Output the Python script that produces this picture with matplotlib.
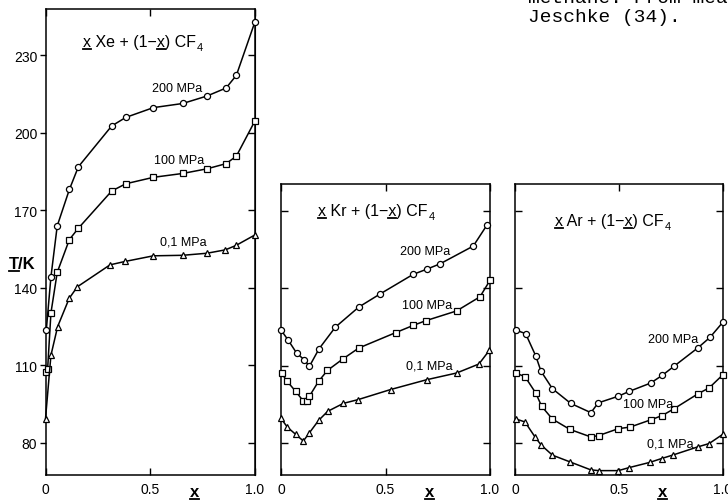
"""Melting curves of xXe/xKr/xAr + (1-x)CF4 at three pressures."""

import matplotlib.pyplot as plt
from matplotlib.font_manager import FontProperties
from matplotlib.lines import Line2D

plt.rcParams['font.family'] = ['Liberation Sans', 'DejaVu Sans']

# --- data: x (mole fraction) and T/K for each system and pressure ---
xe_200_x = [0.004, 0.026, 0.056, 0.114, 0.157, 0.316, 0.383, 0.515, 0.655, 0.771, 0.862, 0.911, 1.0]
xe_200_t = [123.8, 144.3, 164.0, 178.1, 186.9, 202.7, 206.0, 209.8, 211.4, 214.3, 217.4, 222.3, 243.1]
xe_100_x = [0.0, 0.01, 0.026, 0.056, 0.114, 0.157, 0.316, 0.383, 0.515, 0.655, 0.771, 0.862, 0.911, 1.0]
xe_100_t = [107.4, 108.4, 130.3, 146.0, 158.7, 163.1, 177.5, 180.3, 182.8, 184.3, 186.1, 188.1, 191.0, 204.7]
xe_01_x = [0.0, 0.026, 0.058, 0.113, 0.152, 0.308, 0.379, 0.515, 0.655, 0.771, 0.858, 0.909, 1.0]
xe_01_t = [89.3, 113.9, 125.0, 135.9, 140.4, 148.9, 150.2, 152.4, 152.6, 153.4, 154.7, 156.4, 160.5]

kr_200_x = [0.0, 0.035, 0.075, 0.112, 0.136, 0.182, 0.26, 0.372, 0.472, 0.632, 0.697, 0.761, 0.92, 0.985]
kr_200_t = [123.8, 119.8, 114.8, 112.2, 109.7, 116.5, 124.9, 132.7, 137.7, 145.4, 147.4, 149.5, 156.4, 164.5]
kr_100_x = [0.003, 0.027, 0.07, 0.107, 0.123, 0.136, 0.18, 0.222, 0.295, 0.372, 0.549, 0.633, 0.692, 0.84, 0.952, 1.0]
kr_100_t = [107.1, 104.1, 100.0, 96.2, 96.2, 98.1, 103.9, 108.1, 112.5, 116.8, 122.8, 125.6, 127.4, 131.2, 136.7, 143.1]
kr_01_x = [0.0, 0.03, 0.07, 0.107, 0.136, 0.18, 0.223, 0.298, 0.37, 0.525, 0.697, 0.84, 0.947, 0.997]
kr_01_t = [89.5, 86.1, 83.3, 80.7, 83.9, 88.7, 92.2, 95.3, 96.8, 100.7, 104.5, 107.1, 110.6, 115.9]

ar_200_x = [0.003, 0.051, 0.1, 0.125, 0.18, 0.268, 0.365, 0.4, 0.497, 0.55, 0.652, 0.708, 0.764, 0.878, 0.937, 0.999]
ar_200_t = [123.8, 122.4, 113.7, 107.8, 101.0, 95.3, 91.7, 95.5, 98.1, 100.0, 103.2, 106.2, 109.7, 116.8, 120.9, 126.8]
ar_100_x = [0.003, 0.048, 0.1, 0.128, 0.18, 0.264, 0.364, 0.402, 0.497, 0.553, 0.652, 0.708, 0.764, 0.881, 0.933, 0.999]
ar_100_t = [107.1, 105.7, 99.3, 94.2, 89.2, 85.2, 82.3, 82.8, 85.5, 86.1, 88.9, 90.6, 93.2, 99.1, 101.3, 106.4]
ar_01_x = [0.003, 0.048, 0.096, 0.125, 0.18, 0.264, 0.364, 0.402, 0.497, 0.55, 0.648, 0.705, 0.761, 0.878, 0.933, 0.999]
ar_01_t = [89.3, 88.1, 82.3, 79.2, 75.2, 72.6, 69.5, 69.2, 69.2, 70.4, 72.4, 73.9, 75.3, 78.4, 79.7, 83.3]

yticks = [80, 110, 140, 170, 200, 230]
xticks = [0, 0.5, 1.0]
xticklabels = ['0', '0.5', '1.0']

W, H = 728, 502
fig = plt.figure(figsize=(W / 100, H / 100), dpi=100)
renderer = fig.canvas.get_renderer()
to_fig = fig.transFigure.inverted()


def px_axes(left, top, right, bottom):
    return fig.add_axes([left / W, 1 - bottom / H, (right - left) / W, (bottom - top) / H])


def text_w(s, size, weight='normal'):
    prop = FontProperties(family=plt.rcParams['font.family'], size=size, weight=weight)
    w, h, d = renderer.get_text_width_height_descent(s, prop, ismath=False)
    return w


def rich(x0, y0, pieces, size, weight='normal', ha='left', sub=None):
    """Draw text at display point (x0, y0); pieces = [(str, underlined)]."""
    full = ''.join(p for p, _ in pieces)
    total = text_w(full, size, weight)
    if sub:
        total += text_w(sub, size * 0.7, weight) + 1
    if ha == 'center':
        x0 -= total / 2
    fx, fy = to_fig.transform((x0, y0))
    fig.text(fx, fy, full, ha='left', va='center', fontsize=size, fontweight=weight)
    prefix = ''
    for s, ul in pieces:
        start = text_w(prefix, size, weight) if prefix.strip() else 0.0
        if prefix and prefix[-1] == ' ':
            start += size * 0.28
        if ul:
            wid = text_w(s, size, weight)
            ly = y0 - size * 0.62
            a = to_fig.transform((x0 + start, ly))
            b = to_fig.transform((x0 + start + wid, ly))
            fig.add_artist(Line2D([a[0], b[0]], [a[1], b[1]], color='black',
                                  lw=1.3, transform=fig.transFigure))
        prefix += s
    if sub:
        sx = x0 + text_w(full, size, weight) + 1
        a = to_fig.transform((sx, y0 - size * 0.45))
        fig.text(a[0], a[1], sub, ha='left', va='center', fontsize=size * 0.7,
                 fontweight=weight)


def style(ax, ylim):
    ax.set_xticks(xticks, xticklabels)
    ax.set_yticks(yticks)
    ax.set_xlim(0, 1.0)
    ax.set_ylim(*ylim)
    ax.tick_params(axis='x', direction='in', top=True, length=5, width=1.0,
                   pad=5, labelsize=10)
    for s in ax.spines.values():
        s.set_linewidth(1.1)


def series(ax, x, t, marker):
    ax.plot(x, t, color='black', lw=1.1, marker=marker, ms=4.4, mfc='white',
            mec='black', mew=0.9, clip_on=False, zorder=3)


ax1 = px_axes(45.5, 10, 255, 476)
ax2 = px_axes(281, 185, 490, 476)
ax3 = px_axes(515, 185, 723, 476)

style(ax1, (67.5, 248))
ax1.tick_params(axis='y', direction='out', left=True, right=False, length=4,
                width=1.0, pad=2, labelsize=10)
sec = ax1.secondary_yaxis('right')
sec.set_yticks(yticks)
sec.tick_params(direction='in', length=5, width=1.0, labelright=False)

for ax in (ax2, ax3):
    style(ax, (67.5, 180.5))
    ax.tick_params(axis='y', direction='in', left=True, right=True, length=5,
                   width=1.0, labelleft=False)

series(ax1, xe_200_x, xe_200_t, 'o')
series(ax1, xe_100_x, xe_100_t, 's')
series(ax1, xe_01_x, xe_01_t, '^')
series(ax2, kr_200_x, kr_200_t, 'o')
series(ax2, kr_100_x, kr_100_t, 's')
series(ax2, kr_01_x, kr_01_t, '^')
series(ax3, ar_200_x, ar_200_t, 'o')
series(ax3, ar_100_x, ar_100_t, 's')
series(ax3, ar_01_x, ar_01_t, '^')

lab = dict(ha='center', va='center', fontsize=9)
ax1.text(0.63, 217.5, '200 MPa', **lab)
ax1.text(0.64, 189.5, '100 MPa', **lab)
ax1.text(0.66, 158.0, '0,1 MPa', **lab)
ax2.text(0.69, 154.3, '200 MPa', **lab)
ax2.text(0.70, 133.5, '100 MPa', **lab)
ax2.text(0.71, 110.0, '0,1 MPa', **lab)
ax3.text(0.76, 120.2, '200 MPa', **lab)
ax3.text(0.64, 95.0, '100 MPa', **lab)
ax3.text(0.745, 79.7, '0,1 MPa', **lab)

# titles with underlined x and subscript 4
for ax, el, pos in ((ax1, 'Xe', (0.18, 235.3)), (ax2, 'Kr', (0.177, 170.2)),
                    (ax3, 'Ar', (0.192, 166.3))):
    px, py = ax.transData.transform(pos)
    rich(px, py, [('x', True), (' ' + el + ' + (1\u2212', False), ('x', True),
                  (') CF', False)], 11.5, sub='4')

# axis labels
tx, ty = ax1.transAxes.transform((-0.11, 0.453))
rich(tx, ty, [('T', True), ('/K', False)], 12, weight='bold', ha='center')
for ax in (ax1, ax2, ax3):
    bx, by = ax.transAxes.transform((0.71, 0))
    rich(bx, by - 17, [('x', True)], 12, weight='bold', ha='center')

# scanned caption fragment at the top right
mono = dict(family='Liberation Mono', fontsize=14, ha='left', va='baseline')
fig.text(528 / W, 1 - 3 / H, 'methane. From measurements', **mono)
fig.text(528 / W, 1 - 22 / H, 'Jeschke (34).', **mono)

fig.savefig('out.png', dpi=100)
